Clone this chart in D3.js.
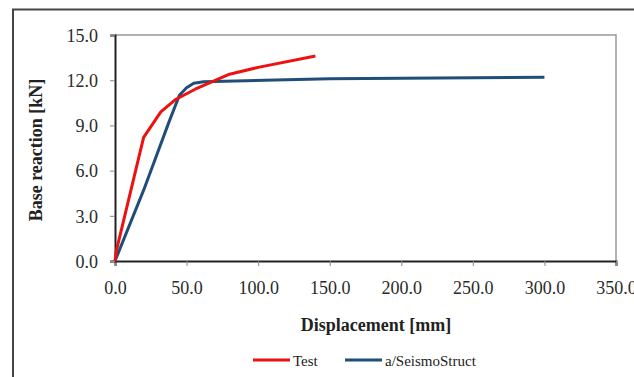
<!DOCTYPE html>
<html><head><meta charset="utf-8">
<script src="https://cdn.jsdelivr.net/npm/d3@7"></script>
<style>body{margin:0;background:#fff}svg{display:block}svg text{font-family:"Liberation Serif","Times New Roman",serif}</style>
</head><body>
<script>
const testDisp = [0, 1, 20, 32, 42, 56, 80, 100, 140];
const testForce = [0, 0.7, 8.2, 9.9, 10.7, 11.4, 12.4, 12.85, 13.6];
const ssDisp = [0, 20, 38, 45, 50, 55, 62, 150, 300];
const ssForce = [0, 4.7, 9.3, 11, 11.5, 11.8, 11.9, 12.1, 12.2];
const xTicks = [0, 50, 100, 150, 200, 250, 300, 350];
const yTicks = [0, 3, 6, 9, 12, 15];
const seriesNames = ["Test", "a/SeismoStruct"];
const seriesColors = ["#ee1111", "#1f4e79"];

const W = 634, H = 377;
const svg = d3.select("body").append("svg").attr("width", W).attr("height", H);
const font = '"Liberation Serif", "Times New Roman", serif';

// outer frame
svg.append("rect").attr("x", 13).attr("y", 9.5).attr("width", 700).attr("height", 500)
  .attr("fill", "none").attr("stroke", "#444").attr("stroke-width", 2);

const L = 115, R = 616, T = 35, B = 261;
const x = d3.scaleLinear().domain([0, 350]).range([L, R]);
const y = d3.scaleLinear().domain([0, 15]).range([B, T]);

// plot area top/right border
svg.append("path").attr("d", `M${L},${T}H${R}V${B}`).attr("fill", "none")
  .attr("stroke", "#999").attr("stroke-width", 1.5);

const xa = svg.append("g").attr("transform", `translate(0,${B})`)
  .call(d3.axisBottom(x).tickValues(xTicks).tickFormat(d3.format(".1f")).tickSize(5).tickPadding(15));
const ya = svg.append("g").attr("transform", `translate(${L},0)`)
  .call(d3.axisLeft(y).tickValues(yTicks).tickFormat(d3.format(".1f")).tickSize(5).tickPadding(12));
[xa, ya].forEach(a => {
  a.attr("font-family", null);
  a.select(".domain").attr("stroke", "#222").attr("stroke-width", 2);
  a.selectAll(".tick line").attr("stroke", "#888");
  a.selectAll("text").style("font-family", font).attr("font-size", 18).attr("fill", "#2a2a2a");
});
ya.selectAll("text").attr("dy", "0.35em");

const line = d3.line().x(d => x(d[0])).y(d => y(d[1]));
const testData = testDisp.map((d, i) => [d, testForce[i]]);
const ssData = ssDisp.map((d, i) => [d, ssForce[i]]);
svg.append("path").datum(ssData).attr("d", line).attr("fill", "none")
  .attr("stroke", seriesColors[1]).attr("stroke-width", 3).attr("stroke-linejoin", "round");
svg.append("path").datum(testData).attr("d", line).attr("fill", "none")
  .attr("stroke", seriesColors[0]).attr("stroke-width", 3).attr("stroke-linejoin", "round");

// axis titles
svg.append("text").attr("x", 376).attr("y", 331).attr("text-anchor", "middle")
  .style("font-family", font).attr("font-weight", "bold").attr("font-size", 18).attr("fill", "#222")
  .text("Displacement  [mm]");
svg.append("text").attr("transform", "translate(42,150) rotate(-90)").attr("text-anchor", "middle")
  .style("font-family", font).attr("font-weight", "bold").attr("font-size", 18).attr("fill", "#222")
  .text("Base reaction [kN]");

// legend
const lg = [{x1: 253, x2: 290, tx: 293}, {x1: 345, x2: 382, tx: 385}];
lg.forEach((p, i) => {
  svg.append("line").attr("x1", p.x1).attr("x2", p.x2).attr("y1", 360).attr("y2", 360)
    .attr("stroke", seriesColors[i]).attr("stroke-width", 3);
  svg.append("text").attr("x", p.tx).attr("y", 366).style("font-family", font)
    .attr("font-size", 15).attr("fill", "#222").text(seriesNames[i]);
});
</script>
</body></html>
